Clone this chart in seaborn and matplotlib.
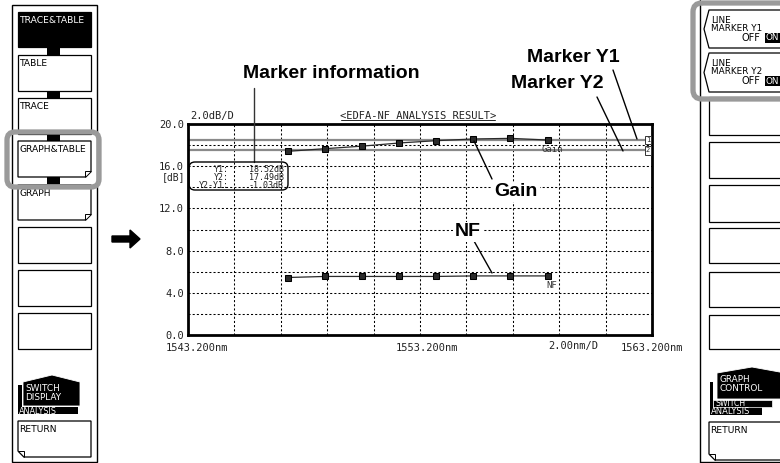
import matplotlib
matplotlib.use("Agg")
import matplotlib.pyplot as plt
import matplotlib.patches as mpatches
import matplotlib.transforms as mtrans
import numpy as np
import pandas as pd
import seaborn as sns

# ---------------- data ----------------
wavelength = [1547.5, 1549.1, 1550.7, 1552.3, 1553.9, 1555.5, 1557.1, 1558.7]
gain_db = [17.41, 17.66, 17.90, 18.20, 18.42, 18.58, 18.64, 18.48]
nf_db = [5.45, 5.55, 5.55, 5.55, 5.55, 5.60, 5.60, 5.60]
marker_y1 = 18.52
marker_y2 = 17.49
x_tick_values = [1543.2, 1553.2, 1563.2]
x_tick_labels = ["1543.200nm", "1553.200nm", "1563.200nm"]
y_tick_values = [0, 4, 8, 12, 16, 20]
y_tick_labels = ["0.0", "4.0", "8.0", "12.0", "16.0", "20.0"]
marker_info_labels = ["Y1:", "Y2:", "Y2-Y1:"]
marker_info_values = ["18.52dB", "17.49dB", "-1.03dB"]
left_buttons = ["TRACE&TABLE", "TABLE", "TRACE", "GRAPH&TABLE", "GRAPH", "", "", "", "RETURN"]
right_buttons = ["LINE\nMARKER Y1", "LINE\nMARKER Y2", "", "", "", "", "", "", "RETURN"]

df = pd.DataFrame({"wl": wavelength * 2,
                   "val": gain_db + nf_db,
                   "trace": ["Gain"] * len(gain_db) + ["NF"] * len(nf_db)})

sns.set_style("white")
plt.rcParams['font.family'] = ['DejaVu Sans Mono', 'DejaVu Sans']

W, H = 780, 463
fig = plt.figure(figsize=(W / 100, H / 100), dpi=100)

# main chart axes
L, R, T, B = 188, 652, 124, 335
ax = fig.add_axes([L / W, (H - B) / H, (R - L) / W, (B - T) / H])
ax.set_facecolor("white")

# decoration layer in pixel coordinates (y downward), drawn on top
deco = fig.add_axes([0, 0, 1, 1])
deco.set_xlim(0, W)
deco.set_ylim(H, 0)
deco.axis("off")
deco.set_zorder(10)

sns.lineplot(data=df, x="wl", y="val", hue="trace", palette=["#2a2a2a", "#2a2a2a"],
             marker="s", markersize=4.2, markeredgecolor="black", linewidth=0.9,
             legend=False, ax=ax)

ax.set_xlim(1543.2, 1563.2)
ax.set_ylim(0, 20)
ax.set_xticks(x_tick_values)
ax.set_xticklabels(x_tick_labels)
ax.set_xticks(np.arange(1545.2, 1563.2, 2.0), minor=True)
ax.set_yticks(y_tick_values)
ax.set_yticklabels(y_tick_labels)
ax.set_yticks([2, 6, 10, 14, 18], minor=True)
ax.set_xlabel("")
ax.set_ylabel("")
ax.tick_params(which="both", length=0, labelsize=7.5, pad=3, colors="#222222")
ax.tick_params(axis="x", pad=6)
ax.grid(True, which="both", color="black", linestyle=(0, (2.0, 2.0)), linewidth=0.75)
for sp in ax.spines.values():
    sp.set_visible(True)
    sp.set_color("black")
    sp.set_linewidth(2.0)

# shift first two x labels slightly right
for lbl, dx in zip(ax.get_xticklabels(), [9, 7, 0]):
    lbl.set_transform(lbl.get_transform() + mtrans.ScaledTranslation(dx / 100, 0, fig.dpi_scale_trans))

# marker lines
ax.axhline(marker_y1, color="#8a8a8a", linewidth=1.6, zorder=1)
ax.axhline(marker_y2, color="#8a8a8a", linewidth=1.6, zorder=1)

# trace labels
ax.text(wavelength[-1] + 0.2, gain_db[-1] - 0.5, "Gain", fontsize=6.5, ha="center", va="top", color="#333")
ax.text(wavelength[-1] + 0.2, nf_db[-1] - 0.5, "NF", fontsize=6.5, ha="center", va="top", color="#333")

# small marker boxes "1" "2"
for yv, t in [(marker_y1, "1"), (marker_y2, "2")]:
    ax.annotate(t, xy=(1, yv), xycoords=("axes fraction", "data"), xytext=(-3, 0),
                textcoords="offset points", fontsize=5, ha="center", va="center",
                bbox=dict(boxstyle="square,pad=0.15", fc="white", ec="#333", lw=0.7))

# header texts
deco.text(190, 116, "2.0dB/D", fontsize=7.5, ha="left", va="center", color="#222")
deco.text(418, 116, "<EDFA-NF ANALYSIS RESULT>", fontsize=7.5, ha="center", va="center", color="#222")
deco.plot([341, 495], [120, 120], color="#222", lw=0.7)
deco.text(573, 346, "2.00nm/D", fontsize=7.5, ha="center", va="center", color="#222")
deco.text(185, 177, "[dB]", fontsize=7.0, ha="right", va="center", color="#222")

# marker information box
deco.add_patch(mpatches.FancyBboxPatch((189, 162), 99, 28, boxstyle="round,pad=0,rounding_size=6",
                                       fc="none", ec="black", lw=1.0, zorder=5))
deco.text(229, 177.5, "\n".join(marker_info_labels), fontsize=6.0, ha="right", va="center",
          multialignment="right", linespacing=0.82, color="#222", zorder=6)
deco.text(284, 177.5, "\n".join(marker_info_values), fontsize=6.0, ha="right", va="center",
          multialignment="right", linespacing=0.82, color="#222", zorder=6)

# callouts
cf = dict(family="Liberation Sans", weight="bold", fontsize=14, color="black", ha="center", va="center")
wb = dict(boxstyle="square,pad=0.1", fc="white", ec="none")
deco.text(331, 73, "Marker information", **cf)
deco.plot([254, 254], [88, 162], color="#333", lw=1.0)
deco.text(573, 58, "Marker Y1", **cf)
deco.plot([613, 637], [70, 139], color="black", lw=1.0)
deco.text(557, 83, "Marker Y2", **cf)
deco.plot([597, 623], [97, 151], color="black", lw=1.0)
deco.text(516, 192, "Gain", bbox=wb, **cf)
deco.plot([492, 474], [179, 141], color="black", lw=1.0)
deco.text(468, 232, "NF", bbox=wb, **cf)
deco.plot([474, 492], [241, 273], color="black", lw=1.0)

# arrow
deco.add_patch(mpatches.FancyArrow(112, 239, 18, 0, width=6, head_width=18, head_length=10,
                                   length_includes_head=False, color="black"))

bf = dict(family="DejaVu Sans", fontsize=6.4, ha="left", va="top")


def button(x0, y0, x1, y1, text, fold=None, black=False, zo=3):
    pts = [(x0, y0), (x1, y0), (x1, y1), (x0, y1)]
    if fold == "br":
        pts = [(x0, y0), (x1, y0), (x1, y1 - 6), (x1 - 6, y1), (x0, y1)]
    elif fold == "bl":
        pts = [(x0, y0), (x1, y0), (x1, y1), (x0 + 6, y1), (x0, y1 - 6)]
    deco.add_patch(mpatches.Polygon(pts, closed=True, fc="black" if black else "white",
                                    ec="black", lw=0.9, zorder=zo))
    if fold == "br":
        deco.add_patch(mpatches.Polygon([(x1, y1 - 6), (x1 - 6, y1 - 6), (x1 - 6, y1)],
                                        closed=True, fc="white", ec="black", lw=0.7, zorder=zo))
    elif fold == "bl":
        deco.add_patch(mpatches.Polygon([(x0, y1 - 6), (x0 + 6, y1 - 6), (x0 + 6, y1)],
                                        closed=True, fc="white", ec="black", lw=0.7, zorder=zo))
    if text:
        deco.text(x0 + 1.5, y0 + 4, text, color="white" if black else "black", zorder=zo + 1,
                  **{**bf, "fontsize": 6.6})


# ---------------- left panel ----------------
deco.add_patch(mpatches.Rectangle((12, 5), 85, 457, fc="white", ec="black", lw=1.0, zorder=1))
lb = [(12, 47, None, True), (55, 91, None, False), (98, 134, None, False),
      (141, 177, "br", False), (185, 220, "br", False),
      (227, 263, None, False), (270, 306, None, False), (313, 349, None, False),
      (421, 457, "bl", False)]
for (y0, y1, f, blk), name in zip(lb, left_buttons):
    button(18, y0, 91, y1, name, fold=f, black=blk)
for yc0, yc1 in [(47, 55), (91, 98), (134, 141), (177, 184)]:
    deco.add_patch(mpatches.Rectangle((47, yc0), 13, yc1 - yc0, fc="black", ec="none", zorder=2))
deco.add_patch(mpatches.FancyBboxPatch((7, 132), 92, 55, boxstyle="round,pad=0,rounding_size=8",
                                       fc="none", ec="#9a9a9a", lw=3.8, zorder=8))
# SWITCH DISPLAY tab
deco.add_patch(mpatches.Polygon([(18, 385), (18, 414), (78, 414), (78, 407), (22, 407), (22, 385)],
                                closed=True, fc="black", ec="none", zorder=3))
deco.add_patch(mpatches.Polygon([(23, 382), (52, 375), (80, 382), (80, 406), (23, 406)],
                                closed=True, fc="black", ec="white", lw=0.6, zorder=4))
deco.text(25, 384, "SWITCH\nDISPLAY", color="white", zorder=5, linespacing=0.95, **bf)
deco.text(19, 406.5, "ANALYSIS", color="white", zorder=5, **{**bf, "fontsize": 5.9})

# ---------------- right panel ----------------
deco.plot([700, 700], [0, 462], color="black", lw=1.0, zorder=1)
deco.plot([700, 780], [462, 462], color="black", lw=1.0, zorder=1)
for (y0, y1) in [(10, 48), (53, 92)]:
    ym = (y0 + y1) / 2
    deco.add_patch(mpatches.Polygon([(709, y0), (785, y0), (785, y1), (709, y1), (704, ym)],
                                    closed=True, fc="white", ec="black", lw=0.9, zorder=3))
deco.text(711, 16, right_buttons[0], color="black", zorder=4, linespacing=0.9, **bf)
deco.text(711, 59, right_buttons[1], color="black", zorder=4, linespacing=0.9, **bf)
for yy in [38, 81]:
    deco.text(760, yy, "OFF", fontsize=7, ha="right", va="center", color="black", zorder=4,
              family="DejaVu Sans")
    deco.add_patch(mpatches.Rectangle((765, yy - 5), 16, 10, fc="black", ec="none", zorder=4))
    deco.text(766, yy, "ON", fontsize=6.3, ha="left", va="center", color="white", zorder=5,
              family="DejaVu Sans")
for (y0, y1) in [(97, 135), (142, 178), (185, 222), (228, 263), (272, 307), (315, 349)]:
    deco.add_patch(mpatches.Rectangle((709, y0), 80, y1 - y0, fc="white", ec="black", lw=0.9, zorder=3))
button(709, 422, 790, 460, right_buttons[-1], fold="bl")
deco.add_patch(mpatches.FancyBboxPatch((693, 3), 100, 96, boxstyle="round,pad=0,rounding_size=9",
                                       fc="none", ec="#9a9a9a", lw=3.8, zorder=8))
# GRAPH CONTROL tab
deco.add_patch(mpatches.Polygon([(710, 382), (710, 415), (762, 415), (762, 407), (713, 407), (713, 382)],
                                closed=True, fc="black", ec="none", zorder=3))
deco.add_patch(mpatches.Rectangle((713, 400), 59, 7, fc="black", ec="white", lw=0.5, zorder=4))
deco.add_patch(mpatches.Polygon([(717, 373), (752, 367), (785, 373), (785, 399), (717, 399)],
                                closed=True, fc="black", ec="white", lw=0.6, zorder=5))
deco.text(719, 375, "GRAPH\nCONTROL", color="white", zorder=6, linespacing=0.95, **bf)
deco.text(716, 399.5, "SWITCH", color="white", zorder=6, **{**bf, "fontsize": 5.6})
deco.text(711, 407, "ANALYSIS", color="white", zorder=6, **{**bf, "fontsize": 6.0})

fig.savefig("out.png", dpi=100)
